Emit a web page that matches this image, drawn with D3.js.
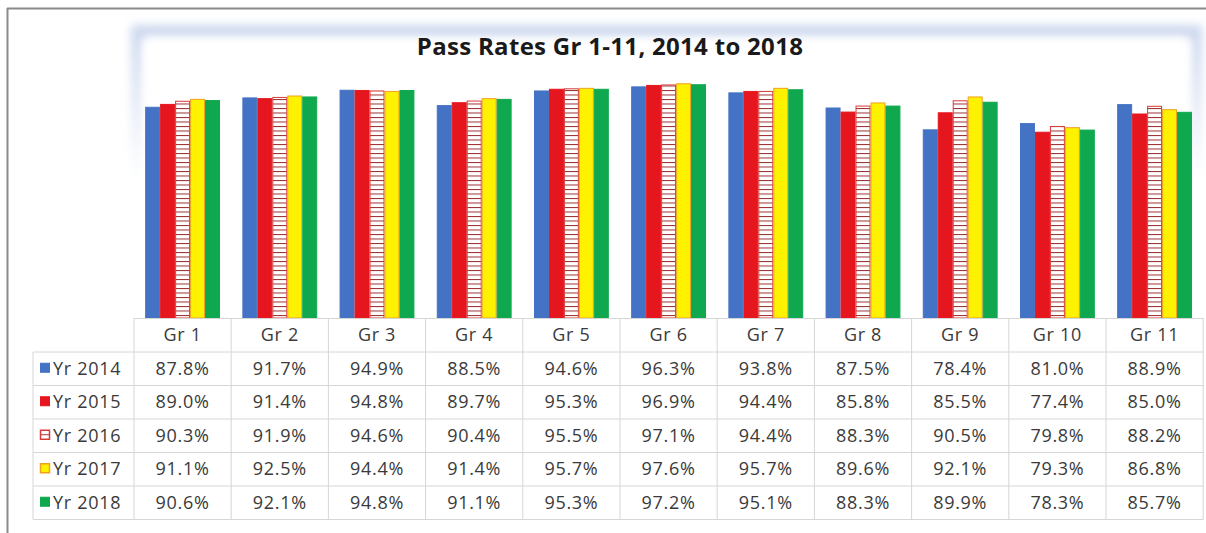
<!DOCTYPE html>
<html><head><meta charset="utf-8">
<script src="https://cdn.jsdelivr.net/npm/d3@7"></script>
<style>
body{margin:0;background:#fff;}
svg{display:block;}
</style></head>
<body>
<svg id="chart" width="1206" height="533"></svg>
<script>
const title = "Pass Rates Gr 1-11, 2014 to 2018";
const grades = ["Gr 1","Gr 2","Gr 3","Gr 4","Gr 5","Gr 6","Gr 7","Gr 8","Gr 9","Gr 10","Gr 11"];
const seriesNames = ["Yr 2014","Yr 2015","Yr 2016","Yr 2017","Yr 2018"];
const yr2014 = [87.8,91.7,94.9,88.5,94.6,96.3,93.8,87.5,78.4,81.0,88.9];
const yr2015 = [89.0,91.4,94.8,89.7,95.3,96.9,94.4,85.8,85.5,77.4,85.0];
const yr2016 = [90.3,91.9,94.6,90.4,95.5,97.1,94.4,88.3,90.5,79.8,88.2];
const yr2017 = [91.1,92.5,94.4,91.4,95.7,97.6,95.7,89.6,92.1,79.3,86.8];
const yr2018 = [90.6,92.1,94.8,91.1,95.3,97.2,95.1,88.3,89.9,78.3,85.7];
const seriesValues = [yr2014, yr2015, yr2016, yr2017, yr2018];
const yDomain = [0, 120];

const svg = d3.select("#chart");
const defs = svg.append("defs");

const pat = defs.append("pattern").attr("id","stripes").attr("patternUnits","userSpaceOnUse")
  .attr("width",8).attr("height",4.5);
pat.append("rect").attr("width",8).attr("height",4.5).attr("fill","#fff");
pat.append("line").attr("x1",0).attr("x2",8).attr("y1",0.5).attr("y2",0.5)
  .attr("stroke","#9b2d2d").attr("stroke-width",1);

const blur = defs.append("filter").attr("id","soft").attr("x","-5%").attr("y","-10%").attr("width","110%").attr("height","120%");
blur.append("feGaussianBlur").attr("stdDeviation",5);

const fg = defs.append("linearGradient").attr("id","frameGrad").attr("gradientUnits","userSpaceOnUse")
  .attr("x1",0).attr("x2",0).attr("y1",30).attr("y2",180);
fg.append("stop").attr("offset",0).attr("stop-color","#cdd8ee").attr("stop-opacity",1);
fg.append("stop").attr("offset",1).attr("stop-color","#cdd8ee").attr("stop-opacity",0);

const styles = [
  {fill:"#4472c4", stroke:"#4472c4"},
  {fill:"#e5161e", stroke:"#e5161e"},
  {fill:"url(#stripes)", stroke:"#d83a3a"},
  {fill:"#fff200", stroke:"#f0a020"},
  {fill:"#10a84e", stroke:"#10a84e"}
];

svg.append("line").attr("x1",7.5).attr("x2",7.5).attr("y1",8).attr("y2",533).attr("stroke","#8a8a8a").attr("stroke-width",2);
svg.append("line").attr("x1",7).attr("x2",1206).attr("y1",8.5).attr("y2",8.5).attr("stroke","#8a8a8a").attr("stroke-width",2);

const left = 134, colW = 97.2, right = left + colW*grades.length;
const plotTop = 30, plotBottom = 318;

const pa = svg.append("g");
pa.append("rect").attr("x",left+4).attr("y",plotTop+2).attr("width",right-left-12).attr("height",plotBottom-plotTop+20)
  .attr("fill","none").attr("stroke","url(#frameGrad)").attr("stroke-width",14).attr("filter","url(#soft)");
pa.append("rect").attr("x",left+9).attr("y",plotTop+8).attr("width",right-left-22).attr("height",plotBottom-plotTop)
  .attr("fill","#fff").attr("filter","url(#soft)");

const x0 = d3.scaleBand().domain(grades).range([left, right]).paddingInner(0.23).paddingOuter(0.115);
const x1 = d3.scaleBand().domain(seriesNames).range([0, x0.bandwidth()]);
const y = d3.scaleLinear().domain(yDomain).range([plotBottom, plotTop]);

seriesNames.forEach((s, si) => {
  svg.append("g").selectAll("rect").data(seriesValues[si]).join("rect")
    .attr("x", (d,i) => x0(grades[i]) + x1(s) + 0.5)
    .attr("y", d => y(d))
    .attr("width", x1.bandwidth() - 1)
    .attr("height", d => y(0) - y(d))
    .attr("fill", styles[si].fill)
    .attr("stroke", styles[si].stroke)
    .attr("stroke-width", 1);
});

svg.append("text").attr("x",610).attr("y",55).attr("text-anchor","middle")
  .attr("font-family","'Open Sans', Lato, sans-serif").attr("font-weight","bold").attr("font-size",24)
  .attr("letter-spacing",0.3).attr("fill","#1a1a1a").text(title);

const tbl = svg.append("g");
const headTop = plotBottom, headH = 34, rowH = 33.5, legLeft = 33;
const gridC = "#d6d6d6";
tbl.append("line").attr("x1",left).attr("x2",right).attr("y1",headTop+0.5).attr("y2",headTop+0.5).attr("stroke",gridC);
for (let r = 0; r <= seriesNames.length; r++) {
  const yy = headTop + headH + r*rowH;
  tbl.append("line").attr("x1",legLeft).attr("x2",right).attr("y1",yy).attr("y2",yy).attr("stroke",gridC);
}
for (let c = 0; c <= grades.length; c++) {
  const xx = left + c*colW;
  tbl.append("line").attr("x1",xx).attr("x2",xx).attr("y1",headTop).attr("y2",headTop+headH+rowH*seriesNames.length).attr("stroke",gridC);
}
tbl.append("line").attr("x1",legLeft).attr("x2",legLeft).attr("y1",headTop+headH).attr("y2",headTop+headH+rowH*seriesNames.length).attr("stroke",gridC);

const font = "'Open Sans', Lato, sans-serif";
const fs = 18, ls = 0.7;
tbl.selectAll("text.h").data(grades).join("text").attr("class","h")
  .attr("x",(d,i)=>left+colW*(i+0.5)).attr("y",headTop+headH/2+6)
  .attr("text-anchor","middle").attr("font-family",font).attr("font-size",fs).attr("letter-spacing",ls)
  .attr("fill","#3a3a3a").text(d=>d);

seriesNames.forEach((s, si) => {
  const cy = headTop + headH + rowH*(si+0.5);
  const st = styles[si];
  tbl.append("rect").attr("x",40.5).attr("y",cy-5.5).attr("width",9).attr("height",9)
    .attr("fill", si===2 ? "#fff" : st.fill).attr("stroke", st.stroke).attr("stroke-width", (si===2||si===3)?1.5:1);
  if (si===2) tbl.append("line").attr("x1",41).attr("x2",49).attr("y1",cy-1).attr("y2",cy-1).attr("stroke","#b03030").attr("stroke-width",1);
  tbl.append("text").attr("x",53).attr("y",cy+6).attr("font-family",font).attr("font-size",fs).attr("letter-spacing",ls)
    .attr("fill","#3a3a3a").text(s);
  tbl.append("g").selectAll("text").data(seriesValues[si]).join("text")
    .attr("x",(d,i)=>left+colW*(i+0.5)).attr("y",cy+6)
    .attr("text-anchor","middle").attr("font-family",font).attr("font-size",fs).attr("letter-spacing",ls)
    .attr("fill","#3a3a3a").text(d=>d.toFixed(1)+"%");
});
</script>
</body></html>
